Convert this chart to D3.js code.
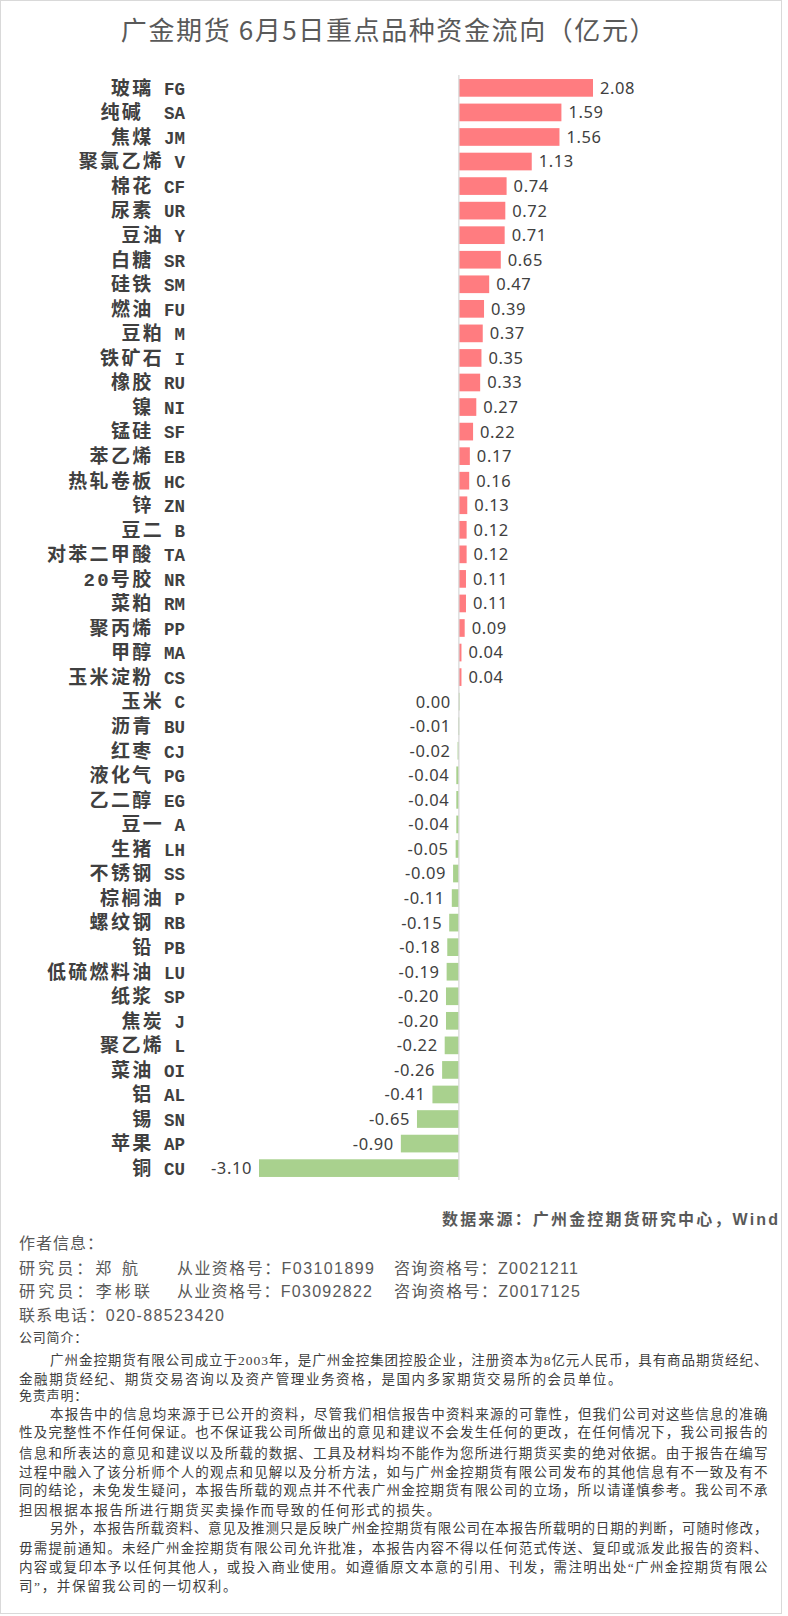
<!DOCTYPE html>
<html><head><meta charset="utf-8">
<script src="https://cdn.jsdelivr.net/npm/d3@7"></script>
<style>
html,body{margin:0;padding:0;background:#fff;}
svg text{white-space:pre;}
</style></head>
<body>
<svg id="chart" width="788" height="1616"></svg>
<script>
const names = ["玻璃 FG","纯碱  SA","焦煤 JM","聚氯乙烯 V","棉花 CF","尿素 UR","豆油 Y","白糖 SR","硅铁 SM","燃油 FU","豆粕 M","铁矿石 I","橡胶 RU","镍 NI","锰硅 SF","苯乙烯 EB","热轧卷板 HC","锌 ZN","豆二 B","对苯二甲酸 TA","20号胶 NR","菜粕 RM","聚丙烯 PP","甲醇 MA","玉米淀粉 CS","玉米 C","沥青 BU","红枣 CJ","液化气 PG","乙二醇 EG","豆一 A","生猪 LH","不锈钢 SS","棕榈油 P","螺纹钢 RB","铅 PB","低硫燃料油 LU","纸浆 SP","焦炭 J","聚乙烯 L","菜油 OI","铝 AL","锡 SN","苹果 AP","铜 CU"];
const values = [2.08,1.59,1.56,1.13,0.74,0.72,0.71,0.65,0.47,0.39,0.37,0.35,0.33,0.27,0.22,0.17,0.16,0.13,0.12,0.12,0.11,0.11,0.09,0.04,0.04,-0.004,-0.01,-0.02,-0.04,-0.04,-0.04,-0.05,-0.09,-0.11,-0.15,-0.18,-0.19,-0.20,-0.20,-0.22,-0.26,-0.41,-0.65,-0.90,-3.10];
const title = "广金期货 6月5日重点品种资金流向（亿元）";
const source = "数据来源：广州金控期货研究中心，Wind";
const authorHead = "作者信息：";
const authors = [["研究员：郑 航","从业资格号：F03101899","咨询资格号：Z0021211"],["研究员：李彬联","从业资格号：F03092822","咨询资格号：Z0017125"]];
const phone = "联系电话：020-88523420";
const bodyLines = [
 {t:"公司简介：", head:true},
 {t:"广州金控期货有限公司成立于2003年，是广州金控集团控股企业，注册资本为8亿元人民币，具有商品期货经纪、", ind:true, full:true},
 {t:"金融期货经纪、期货交易咨询以及资产管理业务资格，是国内多家期货交易所的会员单位。"},
 {t:"免责声明：", head:true},
 {t:"本报告中的信息均来源于已公开的资料，尽管我们相信报告中资料来源的可靠性，但我们公司对这些信息的准确", ind:true, full:true},
 {t:"性及完整性不作任何保证。也不保证我公司所做出的意见和建议不会发生任何的更改，在任何情况下，我公司报告的", full:true},
 {t:"信息和所表达的意见和建议以及所载的数据、工具及材料均不能作为您所进行期货买卖的绝对依据。由于报告在编写", full:true},
 {t:"过程中融入了该分析师个人的观点和见解以及分析方法，如与广州金控期货有限公司发布的其他信息有不一致及有不", full:true},
 {t:"同的结论，未免发生疑问，本报告所载的观点并不代表广州金控期货有限公司的立场，所以请谨慎参考。我公司不承", full:true},
 {t:"担因根据本报告所进行期货买卖操作而导致的任何形式的损失。"},
 {t:"另外，本报告所载资料、意见及推测只是反映广州金控期货有限公司在本报告所载明的日期的判断，可随时修改，", ind:true, full:true},
 {t:"毋需提前通知。未经广州金控期货有限公司允许批准，本报告内容不得以任何范式传送、复印或派发此报告的资料、", full:true},
 {t:"内容或复印本予以任何其他人，或投入商业使用。如遵循原文本意的引用、刊发，需注明出处“广州金控期货有限公", full:true},
 {t:"司”，并保留我公司的一切权利。"}
];
const bodyBaselines = [1342,1365,1384,1400,1419,1437,1458,1477,1495,1515,1533,1553,1572,1591];

const svg = d3.select("#chart");
const CJK = "'Noto Sans CJK SC','Noto Sans',sans-serif";
const CAT = "'Liberation Mono','Noto Sans CJK SC',sans-serif";
const SERIF = "'Liberation Serif','Noto Sans CJK SC',serif";
const FOOT = "'Liberation Sans','Noto Sans CJK SC',sans-serif";

// frame
svg.append("rect").attr("x",0.5).attr("y",0.5).attr("width",781).attr("height",1613)
  .attr("fill","#fff").attr("stroke","#d9d9d9").attr("stroke-width",1);

svg.append("text").attr("x",389).attr("y",40).attr("text-anchor","middle")
  .attr("font-family",CJK).attr("font-size",26).attr("letter-spacing",1.6).attr("fill","#595959").text(title);

const x = d3.scaleLinear().domain([d3.min(values), d3.max(values)]).range([259, 593]);
const y = d3.scaleBand().domain(names).range([75.6, 1180.4]).paddingInner(0.28).paddingOuter(0.14);

const g = svg.append("g");
g.selectAll("rect.bar").data(names).join("rect").attr("class","bar")
  .attr("x",(d,i)=>Math.min(x(0),x(values[i])))
  .attr("width",(d,i)=>Math.max(Math.abs(x(values[i])-x(0)),1))
  .attr("y",d=>y(d)).attr("height",y.bandwidth())
  .attr("fill",(d,i)=>values[i]>0?"#ff7c80":"#a9d18e");

// axis line
g.append("line").attr("x1",x(0)).attr("x2",x(0)).attr("y1",75).attr("y2",1180)
  .attr("stroke","#d9d9d9").attr("stroke-width",1.3);

const fmt = v => (Math.round(v*100)/100).toFixed(2);
g.selectAll("text.val").data(names).join("text").attr("class","val")
  .attr("x",(d,i)=>values[i]>0? x(values[i])+7 : Math.min(x(values[i]),x(0)-1)-7)
  .attr("y",d=>y(d)+y.bandwidth()/2).attr("dy","0.36em")
  .attr("text-anchor",(d,i)=>values[i]>0?"start":"end")
  .attr("font-family","'Noto Sans',sans-serif").attr("font-size",16.5).attr("letter-spacing",0.6)
  .attr("fill","#404040").text((d,i)=>fmt(values[i]));

const cats = g.selectAll("text.cat").data(names).join("text").attr("class","cat")
  .attr("x",185).attr("y",d=>y(d)+y.bandwidth()/2).attr("dy","0.36em")
  .attr("text-anchor","end").attr("font-family",CAT).attr("font-weight","bold")
  .attr("font-size",19).attr("fill","#404040");
cats.each(function(d){
  const k = d.indexOf(" ");
  const sel = d3.select(this);
  sel.append("tspan").attr("letter-spacing",2.3).text(d.slice(0,k));
  sel.append("tspan").attr("font-size",17.5).attr("letter-spacing",0).text(d.slice(k));
});

// footer
const foot = svg.append("g").attr("font-family",FOOT).attr("fill","#595959");
foot.append("text").attr("x",442).attr("y",1225).attr("font-size",16).attr("font-weight","bold")
  .attr("textLength",336).attr("lengthAdjust","spacing").text(source);
foot.append("text").attr("x",19).attr("y",1249).attr("font-size",16)
  .attr("textLength",84).attr("lengthAdjust","spacing").text(authorHead);
const segX = [19,177,394];
const segW = [[119,197,184],[131,195,186]];
authors.forEach((row,r)=>{
  row.forEach((s,k)=>{
    foot.append("text").attr("x",segX[k]).attr("y",r===0?1274:1297).attr("font-size",16)
      .attr("textLength",segW[r][k]).attr("lengthAdjust","spacing").text(s);
  });
});
foot.append("text").attr("x",19).attr("y",1321).attr("font-size",16)
  .attr("textLength",205).attr("lengthAdjust","spacing").text(phone);

const body = svg.append("g").attr("font-family",SERIF).attr("fill","#404040");
bodyLines.forEach((l,i)=>{
  const x0 = l.ind ? 50 : 19;
  const t = body.append("text").attr("x",x0).attr("y",bodyBaselines[i])
    .attr("font-size",l.head?13:13.5).attr("letter-spacing",l.head?0.8:1.6).text(l.t);
  if (l.full) t.attr("textLength",769-x0).attr("lengthAdjust","spacing");
});
</script>
</body></html>
